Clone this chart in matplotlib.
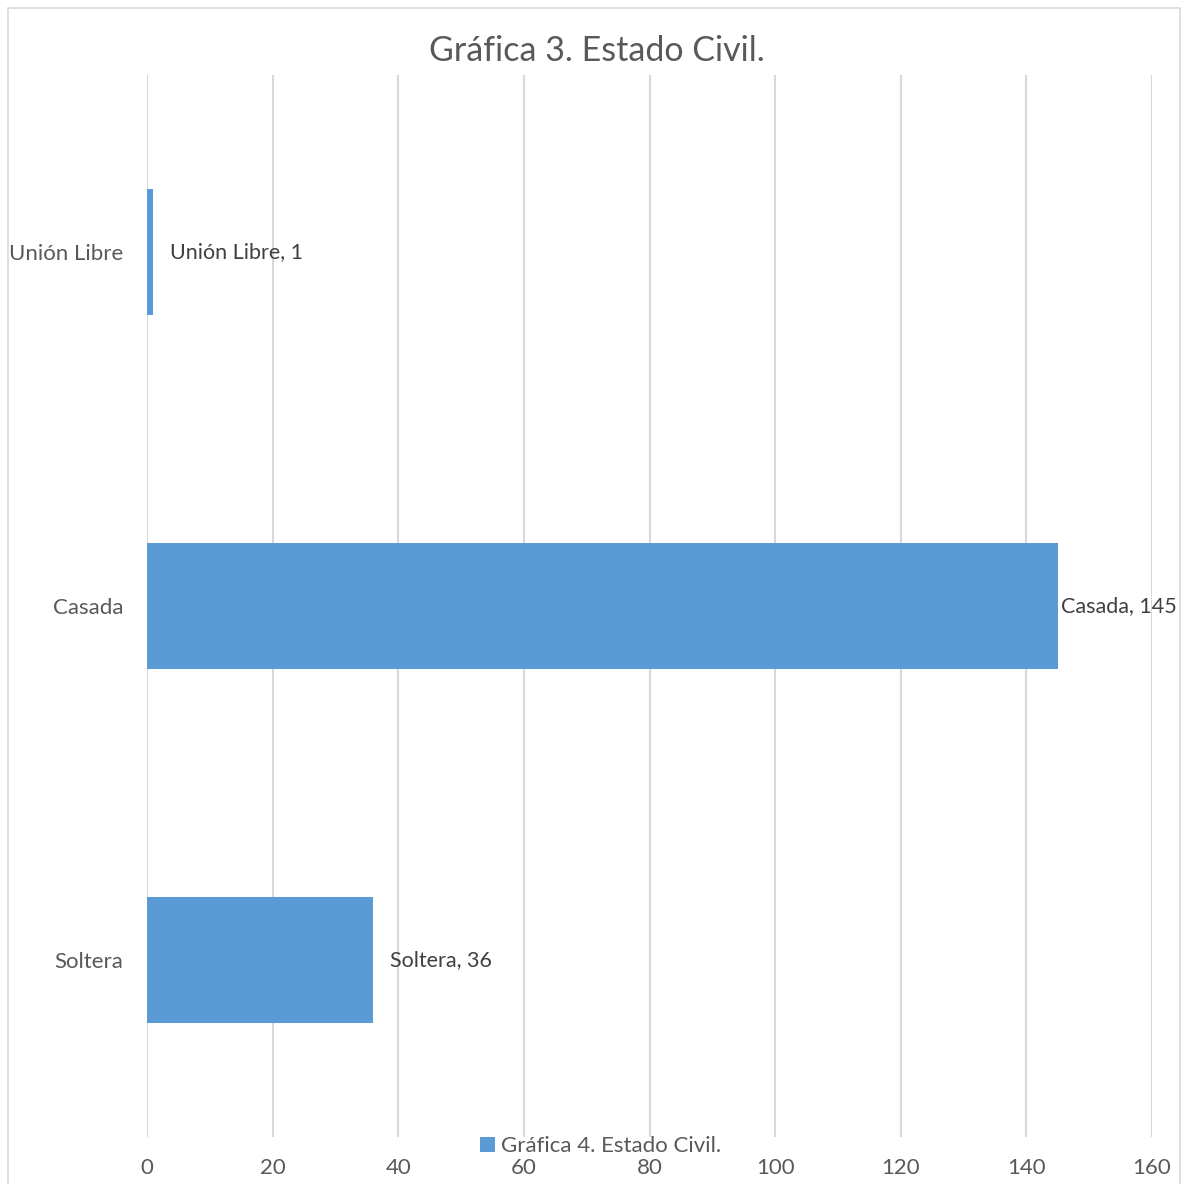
import matplotlib
matplotlib.use("Agg")
import matplotlib.pyplot as plt
from matplotlib.patches import Rectangle, Patch

plt.rcParams['font.family'] = ['Lato', 'DejaVu Sans']

categories = ["Soltera", "Casada", "Unión Libre"]
values = [36, 145, 1]
xticks = [0, 20, 40, 60, 80, 100, 120, 140, 160]
title = "Gráfica 3. Estado Civil."
series_name = "Gráfica 4. Estado Civil."

W, H = 1186, 1184
fig = plt.figure(figsize=(W / 100, H / 100), dpi=100)
ax = fig.add_axes([147 / W, 1 - 1137 / H, (1152 - 147) / W, (1137 - 75) / H])

bar_color = "#5B9BD5"
ypos = list(range(len(categories)))
ax.barh(ypos, values, height=0.356, color=bar_color, zorder=3)

ax.set_xlim(0, 160)
ax.set_ylim(-0.5, len(categories) - 0.5)
ax.set_xticks(xticks)
ax.set_xticklabels([str(t) for t in xticks])
ax.set_yticks(ypos)
ax.set_yticklabels(categories)
ax.tick_params(axis='both', length=0, labelsize=16, colors="#595959")
ax.tick_params(axis='y', pad=17)
ax.tick_params(axis='x', pad=15)
ax.xaxis.grid(True, color="#D9D9D9", linewidth=1.5, zorder=0)
ax.set_axisbelow(True)
for s in ax.spines.values():
    s.set_visible(False)

offsets = [12, 2.5, 12]
for y, v, c, off in zip(ypos, values, categories, offsets):
    ax.annotate(f"{c}, {v}", xy=(v, y), xytext=(off, 0), textcoords="offset points",
                ha="left", va="center", fontsize=15.5, color="#404040", zorder=4)

fig.text(597 / W, 1 - 51 / H, title, ha="center", va="center", fontsize=24.5, color="#595959")

leg = fig.legend(handles=[Patch(facecolor=bar_color, edgecolor='none')], labels=[series_name],
                 loc="center", bbox_to_anchor=(601 / W, 1 - 1146 / H), frameon=False,
                 fontsize=16, handlelength=0.65, handleheight=0.65, handletextpad=0.3,
                 labelcolor="#595959", borderpad=0)

fig.patches.append(Rectangle((8 / W, -0.05), (1180 - 8) / W, 1 - 8 / H + 0.05,
                             transform=fig.transFigure, fill=False, edgecolor="#D9D9D9",
                             linewidth=1.2, clip_on=False))

fig.savefig("out.png", dpi=100)
